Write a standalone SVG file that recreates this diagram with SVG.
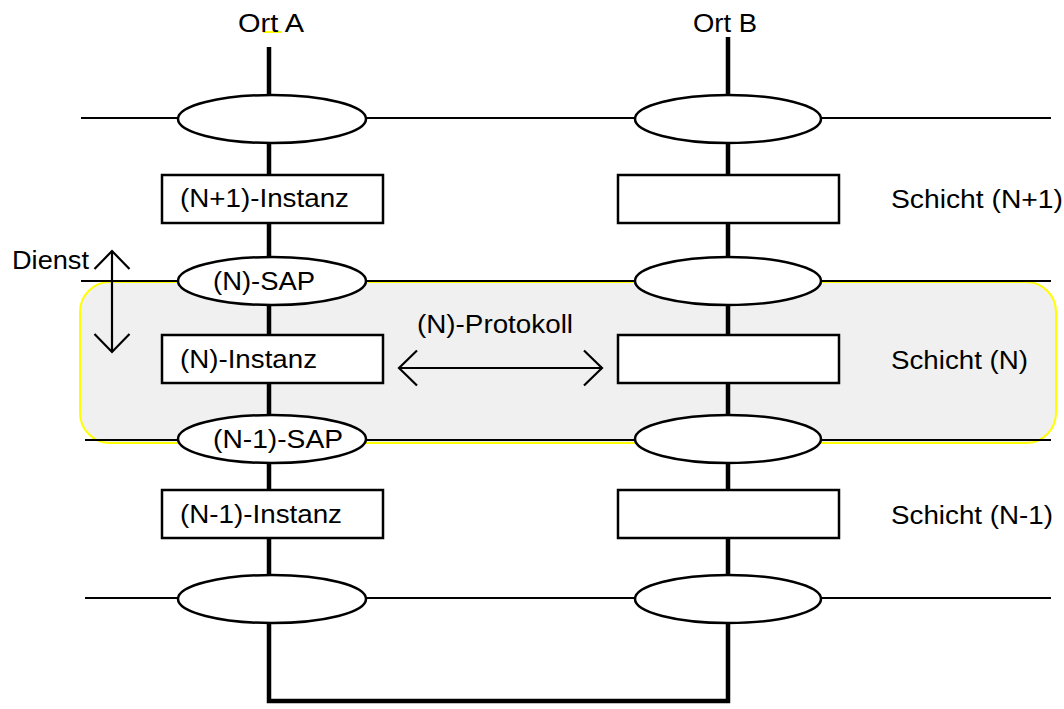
<svg xmlns="http://www.w3.org/2000/svg" width="1064" height="709" viewBox="0 0 1064 709">
<style>
text{font-family:"Liberation Sans",Arial,sans-serif;font-size:26.5px;fill:#000}
.thin{stroke:#000;stroke-width:2.2;fill:none}
.thick{stroke:#000;stroke-width:4.5;fill:none}
.ell{fill:#fff;stroke:#000;stroke-width:2.5}
.box{fill:#fff;stroke:#000;stroke-width:2.5}
.arr{stroke:#000;stroke-width:2.2;fill:none}
</style>
<defs>
<marker id="open" markerUnits="userSpaceOnUse" markerWidth="44" markerHeight="44" viewBox="-22 -22 44 44" refX="0" refY="0" orient="auto-start-reverse">
<path d="M-18,-17.5 L0,0 L-18,17.5" fill="none" stroke="#000" stroke-width="2.2"/>
</marker>
</defs>
<rect id="layerN" x="80" y="282" width="976" height="161" rx="30" ry="30" fill="#f0f0f0" stroke="#ffff00" stroke-width="2"/>
<g id="connectors">
<line class="thin" x1="81" y1="118" x2="1051" y2="118"/>
<line class="thin" x1="81" y1="281" x2="1051" y2="281"/>
<line class="thin" x1="85" y1="440" x2="1051" y2="440"/>
<line class="thin" x1="85" y1="598" x2="1051" y2="598"/>
<path class="thick" d="M269,47 V701 H728 V37"/>
<line class="arr" x1="112" y1="251" x2="112" y2="352" marker-start="url(#open)" marker-end="url(#open)"/>
<line class="arr" x1="399" y1="368" x2="602" y2="368" marker-start="url(#open)" marker-end="url(#open)"/>
<line x1="263" y1="32" x2="282" y2="32" stroke="#ffff00" stroke-width="2"/>
</g>
<g id="labels">
<text x="238" y="32" textLength="66" lengthAdjust="spacingAndGlyphs">Ort A</text>
<text x="693" y="32" textLength="64" lengthAdjust="spacingAndGlyphs">Ort B</text>
<text x="12" y="269" textLength="77" lengthAdjust="spacingAndGlyphs">Dienst</text>
<text x="417" y="333" textLength="156" lengthAdjust="spacingAndGlyphs">(N)-Protokoll</text>
</g>
<g id="sapA1"><ellipse class="ell" cx="272" cy="119" rx="94" ry="24"/></g>
<g id="sapB1"><ellipse class="ell" cx="728" cy="119" rx="93" ry="24"/></g>
<g id="instA1"><rect class="box" x="162" y="175" width="221" height="48"/><text x="180" y="207" textLength="169" lengthAdjust="spacingAndGlyphs">(N+1)-Instanz</text></g>
<g id="instB1"><rect class="box" x="618" y="175" width="221" height="48"/></g>
<g id="layer1"><text x="891" y="208" textLength="172" lengthAdjust="spacingAndGlyphs">Schicht (N+1)</text></g>
<g id="sapA2"><ellipse class="ell" cx="272" cy="281" rx="94" ry="24"/><text x="213" y="290" textLength="102" lengthAdjust="spacingAndGlyphs">(N)-SAP</text></g>
<g id="sapB2"><ellipse class="ell" cx="728" cy="281" rx="93" ry="24"/></g>
<g id="instA2"><rect class="box" x="162" y="335" width="221" height="48"/><text x="180" y="368" textLength="137" lengthAdjust="spacingAndGlyphs">(N)-Instanz</text></g>
<g id="instB2"><rect class="box" x="618" y="335" width="221" height="48"/></g>
<g id="layer2"><text x="891" y="369" textLength="137" lengthAdjust="spacingAndGlyphs">Schicht (N)</text></g>
<g id="sapA3"><ellipse class="ell" cx="272" cy="439" rx="94" ry="24"/><text x="213" y="448" textLength="130" lengthAdjust="spacingAndGlyphs">(N-1)-SAP</text></g>
<g id="sapB3"><ellipse class="ell" cx="728" cy="439" rx="93" ry="24"/></g>
<g id="instA3"><rect class="box" x="162" y="490" width="221" height="48"/><text x="180" y="523" textLength="162" lengthAdjust="spacingAndGlyphs">(N-1)-Instanz</text></g>
<g id="instB3"><rect class="box" x="618" y="490" width="221" height="48"/></g>
<g id="layer3"><text x="891" y="524" textLength="162" lengthAdjust="spacingAndGlyphs">Schicht (N-1)</text></g>
<g id="sapA4"><ellipse class="ell" cx="272" cy="599" rx="94" ry="24"/></g>
<g id="sapB4"><ellipse class="ell" cx="728" cy="599" rx="93" ry="24"/></g>
</svg>
